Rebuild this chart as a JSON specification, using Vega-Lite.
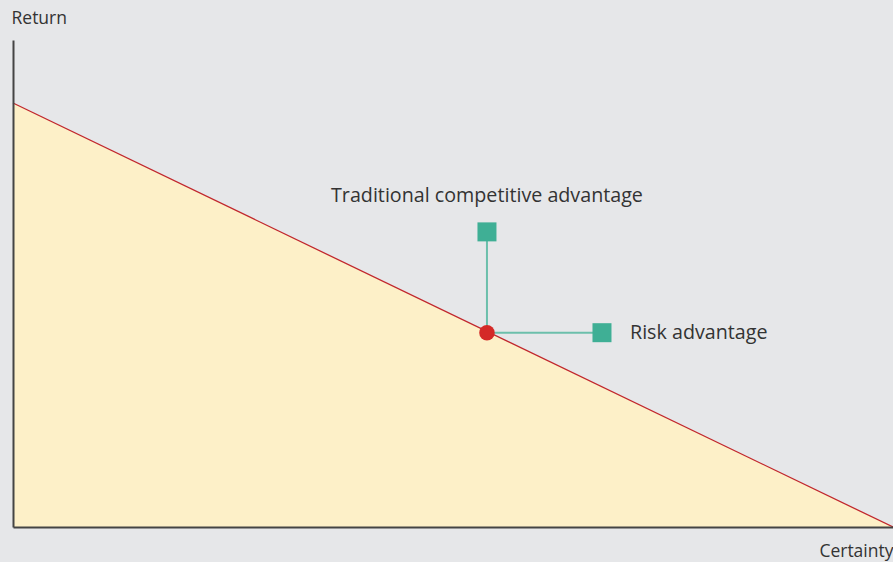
{
  "$schema": "https://vega.github.io/schema/vega-lite/v6.json",
  "width": 880,
  "height": 487,
  "autosize": {"type": "none"},
  "padding": {"left": 13, "top": 40, "right": 0, "bottom": 35},
  "background": "#e6e7e9",
  "config": {"view": {"stroke": null}, "font": "Open Sans"},
  "datasets": {
    "frontier": [{"x": 0, "y": 87.06}, {"x": 100, "y": 0}],
    "links": [
      {"x": 53.86, "y": 39.9, "x2": 53.86, "y2": 60.6},
      {"x": 53.86, "y": 39.9, "x2": 66.93, "y2": 39.9}
    ],
    "squares": [
      {"x": 53.86, "y": 60.6, "name": "Traditional competitive advantage"},
      {"x": 66.93, "y": 39.9, "name": "Risk advantage"}
    ],
    "dot": [{"x": 53.86, "y": 39.9}]
  },
  "layer": [
    {
      "data": {"name": "frontier"},
      "mark": {"type": "area", "color": "#fdf0c8"},
      "encoding": {
        "x": {"field": "x", "type": "quantitative", "scale": {"domain": [0, 100], "nice": false},
          "axis": {"zindex": 1, "domain": true, "domainColor": "#444444", "domainWidth": 2, "ticks": false, "labels": false, "grid": false,
            "title": "Certainty", "titleFontSize": 17.5, "titleFontWeight": "normal", "titleColor": "#333333", "titleAlign": "right", "titleAnchor": "end", "titleBaseline": "middle", "titleX": 880, "titleY": 24}},
        "y": {"field": "y", "type": "quantitative", "scale": {"domain": [0, 100], "nice": false},
          "axis": {"zindex": 1, "domain": true, "domainColor": "#444444", "domainWidth": 2, "ticks": false, "labels": false, "grid": false,
            "title": "Return", "titleFontSize": 17.5, "titleFontWeight": "normal", "titleColor": "#333333", "titleAngle": 0, "titleAlign": "left", "titleBaseline": "middle", "titleX": -2, "titleY": -22}}
      }
    },
    {
      "data": {"name": "frontier"},
      "mark": {"type": "line", "color": "#c1272d", "strokeWidth": 1.3},
      "encoding": {
        "x": {"field": "x", "type": "quantitative"},
        "y": {"field": "y", "type": "quantitative"}
      }
    },
    {
      "data": {"name": "links"},
      "mark": {"type": "rule", "color": "#6cbfab", "strokeWidth": 2},
      "encoding": {
        "x": {"field": "x", "type": "quantitative"},
        "y": {"field": "y", "type": "quantitative"},
        "x2": {"field": "x2"},
        "y2": {"field": "y2"}
      }
    },
    {
      "data": {"name": "squares"},
      "mark": {"type": "point", "shape": "square", "filled": true, "size": 361, "color": "#3faf95", "opacity": 1},
      "encoding": {
        "x": {"field": "x", "type": "quantitative"},
        "y": {"field": "y", "type": "quantitative"}
      }
    },
    {
      "data": {"name": "dot"},
      "mark": {"type": "circle", "size": 240, "color": "#d42a27", "opacity": 1},
      "encoding": {
        "x": {"field": "x", "type": "quantitative"},
        "y": {"field": "y", "type": "quantitative"}
      }
    },
    {
      "data": {"name": "squares"},
      "transform": [{"filter": "datum.name == 'Traditional competitive advantage'"}],
      "mark": {"type": "text", "fontSize": 19.7, "color": "#333333", "align": "center", "baseline": "middle", "dx": 0, "dy": -36},
      "encoding": {
        "x": {"field": "x", "type": "quantitative"},
        "y": {"field": "y", "type": "quantitative"},
        "text": {"field": "name"}
      }
    },
    {
      "data": {"name": "squares"},
      "transform": [{"filter": "datum.name == 'Risk advantage'"}],
      "mark": {"type": "text", "fontSize": 19.7, "color": "#333333", "align": "left", "baseline": "middle", "dx": 28, "dy": 0},
      "encoding": {
        "x": {"field": "x", "type": "quantitative"},
        "y": {"field": "y", "type": "quantitative"},
        "text": {"field": "name"}
      }
    }
  ]
}
